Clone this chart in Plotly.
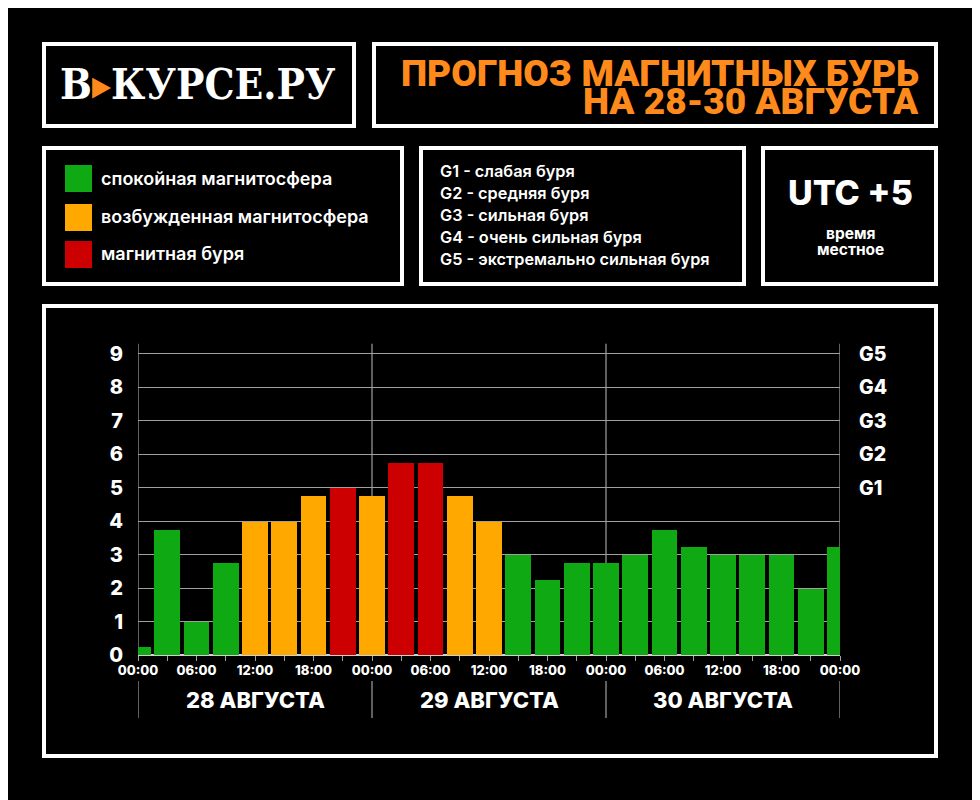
import plotly.graph_objects as go

# ---- data ----
hours = [0, 3, 6, 9, 12, 15, 18, 21, 24, 27, 30, 33, 36, 39, 42, 45, 48, 51, 54, 57, 60, 63, 66, 69, 72]
kp = [0.25, 3.75, 1.0, 2.75, 4.0, 4.0, 4.75, 5.0, 4.75, 5.75, 5.75, 4.75, 4.0, 3.0,
      2.25, 2.75, 2.75, 3.0, 3.75, 3.25, 3.0, 3.0, 3.0, 2.0, 3.25]
level = ["q", "q", "q", "q", "a", "a", "a", "s", "a", "s", "s", "a", "a", "q",
         "q", "q", "q", "q", "q", "q", "q", "q", "q", "q", "q"]
tick_vals = [0, 6, 12, 18, 24, 30, 36, 42, 48, 54, 60, 66, 72]
tick_text = ["00:00", "06:00", "12:00", "18:00"] * 3 + ["00:00"]
y_ticks = list(range(10))
g_levels = [5, 6, 7, 8, 9]
g_labels = ["G1", "G2", "G3", "G4", "G5"]
days = ["28 АВГУСТА", "29 АВГУСТА", "30 АВГУСТА"]
day_centers = [12, 36, 60]
legend_items = ["спокойная магнитосфера", "возбужденная магнитосфера", "магнитная буря"]
g_desc = ["G1 - слабая буря", "G2 - средняя буря", "G3 - сильная буря",
          "G4 - очень сильная буря", "G5 - экстремально сильная буря"]
title_lines = ["ПРОГНОЗ МАГНИТНЫХ БУРЬ", "НА 28-30 АВГУСТА"]
tz_lines = ["время", "местное"]

GREEN, ORANGE, RED = "#0fa914", "#ffa800", "#cc0000"
TITLE_OR = "#ff8a1c"
cmap = {"q": GREEN, "a": ORANGE, "s": RED}

W, H = 980, 800
OFF = 8  # page body offset
def px(x): return (x - OFF) / W
def py(y): return 1 - (y - OFF) / H

FONT = "Inter"

fig = go.Figure()
fig.add_trace(go.Bar(x=hours, y=kp, width=2.62,
                     marker=dict(color=[cmap[l] for l in level], line=dict(width=0)),
                     hoverinfo="x+y", showlegend=False))

shapes = []
def box(x0, y0, x1, y1):
    shapes.append(dict(type="rect", xref="paper", yref="paper",
                       x0=px(x0), x1=px(x1), y0=py(y1), y1=py(y0),
                       line=dict(color="white", width=4), fillcolor="rgba(0,0,0,0)"))
box(44, 44, 354, 126)
box(374, 44, 936, 126)
box(44, 148, 402, 284)
box(421, 148, 744, 284)
box(763, 148, 936, 284)
box(44, 306, 936, 756)

# legend squares
sq_y = [(165, 192), (204, 231), (241, 268)]
for (a, b), c in zip(sq_y, [GREEN, ORANGE, RED]):
    shapes.append(dict(type="rect", xref="paper", yref="paper",
                       x0=px(65), x1=px(92), y0=py(b), y1=py(a),
                       line=dict(width=0), fillcolor=c))

# vertical day lines in plot
for d in [0, 24, 48, 72]:
    shapes.append(dict(type="line", xref="x", yref="y", x0=d, x1=d, y0=0, y1=9.3,
                       line=dict(color="#a0a0a0", width=1.2), layer="below"))
    shapes.append(dict(type="line", xref="x", yref="paper", x0=d, x1=d,
                       y0=py(718), y1=py(681), line=dict(color="#a0a0a0", width=1.2)))

ann = []
ann.append(dict(xref="paper", yref="paper", x=px(198), y=py(85), showarrow=False,
                text="В<span style='color:%s'>▸</span>КУРСЕ.РУ" % TITLE_OR,
                font=dict(family="DejaVu Serif Condensed", size=42, color="white", weight="bold"),
                xanchor="center", yanchor="middle"))
for t, yc in zip(title_lines, [73, 102]):
    ann.append(dict(xref="paper", yref="paper", x=px(921), y=py(yc), showarrow=False,
                    text=t, font=dict(family="Roboto", size=37, color=TITLE_OR, weight=900),
                    xanchor="right", yanchor="middle"))
for t, yc in zip(legend_items, [178, 216, 253]):
    ann.append(dict(xref="paper", yref="paper", x=px(99), y=py(yc), showarrow=False,
                    text=t, font=dict(family=FONT, size=18, color="white", weight=600),
                    xanchor="left", yanchor="middle"))
for t, yc in zip(g_desc, [171, 193, 215, 237, 259]):
    ann.append(dict(xref="paper", yref="paper", x=px(438), y=py(yc), showarrow=False,
                    text=t, font=dict(family=FONT, size=16.3, color="white", weight=600),
                    xanchor="left", yanchor="middle"))
ann.append(dict(xref="paper", yref="paper", x=px(850), y=py(193), showarrow=False,
                text="UTC +5", font=dict(family=FONT, size=34, color="white", weight=800),
                xanchor="center", yanchor="middle"))
for t, yc in zip(tz_lines, [233, 249]):
    ann.append(dict(xref="paper", yref="paper", x=px(850), y=py(yc), showarrow=False,
                    text=t, font=dict(family=FONT, size=15.5, color="white", weight=700),
                    xanchor="center", yanchor="middle"))
for gv, gl in zip(g_levels, g_labels):
    ann.append(dict(xref="paper", yref="y", x=px(857), y=gv, showarrow=False,
                    text=gl, font=dict(family=FONT, size=19.5, color="white", weight=800),
                    xanchor="left", yanchor="middle"))
for dc, dl in zip(day_centers, days):
    ann.append(dict(xref="x", yref="paper", x=dc, y=py(700), showarrow=False,
                    text=dl, font=dict(family=FONT, size=22, color="white", weight=800),
                    xanchor="center", yanchor="middle"))

fig.update_layout(
    width=W, height=H, margin=dict(l=0, r=0, t=0, b=0, autoexpand=False),
    paper_bgcolor="black", plot_bgcolor="black",
    bargap=0, showlegend=False, shapes=shapes, annotations=ann,
    xaxis=dict(domain=[px(138), px(840)], range=[0, 72], tickvals=tick_vals, ticktext=tick_text,
               showgrid=False, zeroline=False, showline=False, automargin=False,
               ticks="", tickfont=dict(family=FONT, size=13, color="white", weight=800),
               ticklabelstandoff=6,
               minor=dict(dtick=3, tick0=0, ticks="outside", ticklen=5, tickcolor="#a0a0a0", tickwidth=1.2,
                          showgrid=False)),
    yaxis=dict(domain=[py(655), py(343.5)], range=[0, 9.3], tickvals=y_ticks,
               showgrid=True, gridcolor="#a0a0a0", gridwidth=1.2,
               zeroline=True, zerolinecolor="#d0d0d0", zerolinewidth=1.5,
               showline=False, ticks="", automargin=False,
               tickfont=dict(family=FONT, size=20, color="white", weight=800),
               ticklabelstandoff=14),
)

fig.write_html("out.html")
